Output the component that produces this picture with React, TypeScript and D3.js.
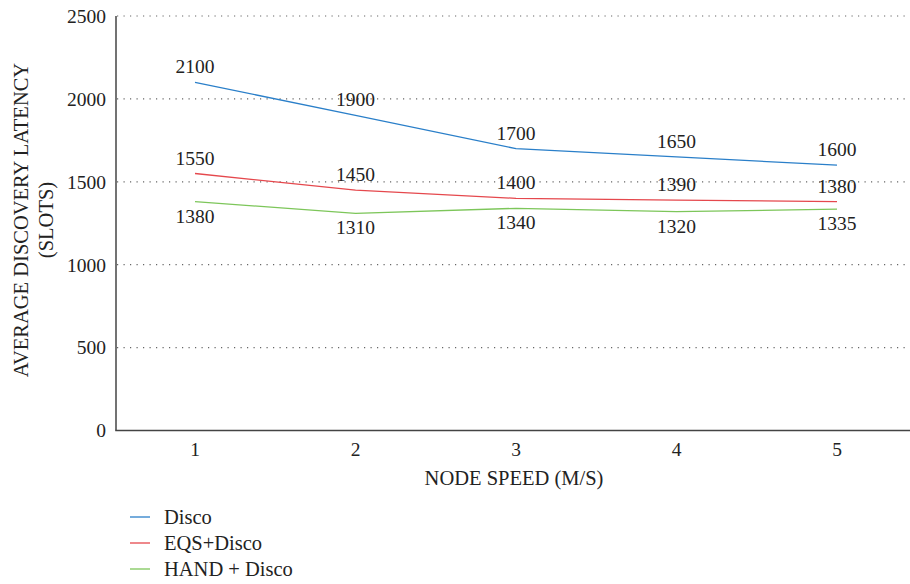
import React from "react";
import * as d3 from "d3";

const speeds = [1, 2, 3, 4, 5];
const disco = [2100, 1900, 1700, 1650, 1600];
const eqsDisco = [1550, 1450, 1400, 1390, 1380];
const handDisco = [1380, 1310, 1340, 1320, 1335];
const yTicks = [0, 500, 1000, 1500, 2000, 2500];

const seriesNames = ["Disco", "EQS+Disco", "HAND + Disco"];
const seriesColors = ["#2a7fc9", "#e5484d", "#7dc65a"];

const W = 910;
const H = 584;
const FONT = "'Liberation Serif', 'Times New Roman', serif";

export default function App() {
  const x = d3.scaleLinear().domain([1, 5]).range([195, 837]);
  const y = d3.scaleLinear().domain([0, 2500]).range([430.5, 16]);
  const line = d3
    .line<number>()
    .x((_, i) => x(speeds[i]))
    .y((d) => y(d));

  const series = [
    { name: seriesNames[0], values: disco, color: seriesColors[0], labelDy: -9 },
    { name: seriesNames[1], values: eqsDisco, color: seriesColors[1], labelDy: -9 },
    { name: seriesNames[2], values: handDisco, color: seriesColors[2], labelDy: 21 },
  ];

  const txt = { fontFamily: FONT, fontSize: 19.5, fill: "#222" } as const;
  const title = { fontFamily: FONT, fontSize: 20.5, fill: "#222" } as const;

  return (
    <svg
      width={W}
      height={H}
      style={{ position: "absolute", left: 0, top: 0, fontFamily: FONT }}
    >
      <rect width={W} height={H} fill="#fff" />
      {/* horizontal gridlines */}
      {yTicks.slice(1).map((t) => (
        <line
          key={t}
          x1={117}
          x2={W}
          y1={y(t)}
          y2={y(t)}
          stroke="#666"
          strokeWidth={1.2}
          strokeDasharray="1.2 5.3"
        />
      ))}
      {/* axes */}
      <line x1={116} x2={116} y1={16} y2={y(0)} stroke="#444" strokeWidth={1.5} />
      <line x1={115.25} x2={W} y1={y(0)} y2={y(0)} stroke="#444" strokeWidth={1.5} />
      {yTicks.map((t) => (
        <text key={t} x={106} y={y(t)} dy="0.35em" textAnchor="end" style={txt}>
          {t}
        </text>
      ))}
      {speeds.map((s) => (
        <text key={s} x={x(s)} y={456} textAnchor="middle" style={txt}>
          {s}
        </text>
      ))}
      <text x={514} y={485} textAnchor="middle" style={title}>
        NODE SPEED (M/S)
      </text>
      <g transform="translate(0,220) rotate(-90)">
        <text x={0} y={28} textAnchor="middle" style={title}>
          AVERAGE DISCOVERY LATENCY
        </text>
        <text x={0} y={53} textAnchor="middle" style={title}>
          (SLOTS)
        </text>
      </g>
      {/* series */}
      {series.map((s) => (
        <g key={s.name}>
          <path d={line(s.values) ?? ""} fill="none" stroke={s.color} strokeWidth={1.3} />
          {s.values.map((v, i) => (
            <text
              key={i}
              x={x(speeds[i])}
              y={y(v) + s.labelDy}
              textAnchor="middle"
              style={txt}
            >
              {v}
            </text>
          ))}
        </g>
      ))}
      {/* legend */}
      {series.map((s, i) => (
        <g key={s.name} transform={`translate(130,${517 + i * 26})`}>
          <line x1={0} x2={20} y1={0} y2={0} stroke={s.color} strokeWidth={1.3} />
          <text x={34} y={0} dy="0.35em" style={title}>
            {s.name}
          </text>
        </g>
      ))}
    </svg>
  );
}
